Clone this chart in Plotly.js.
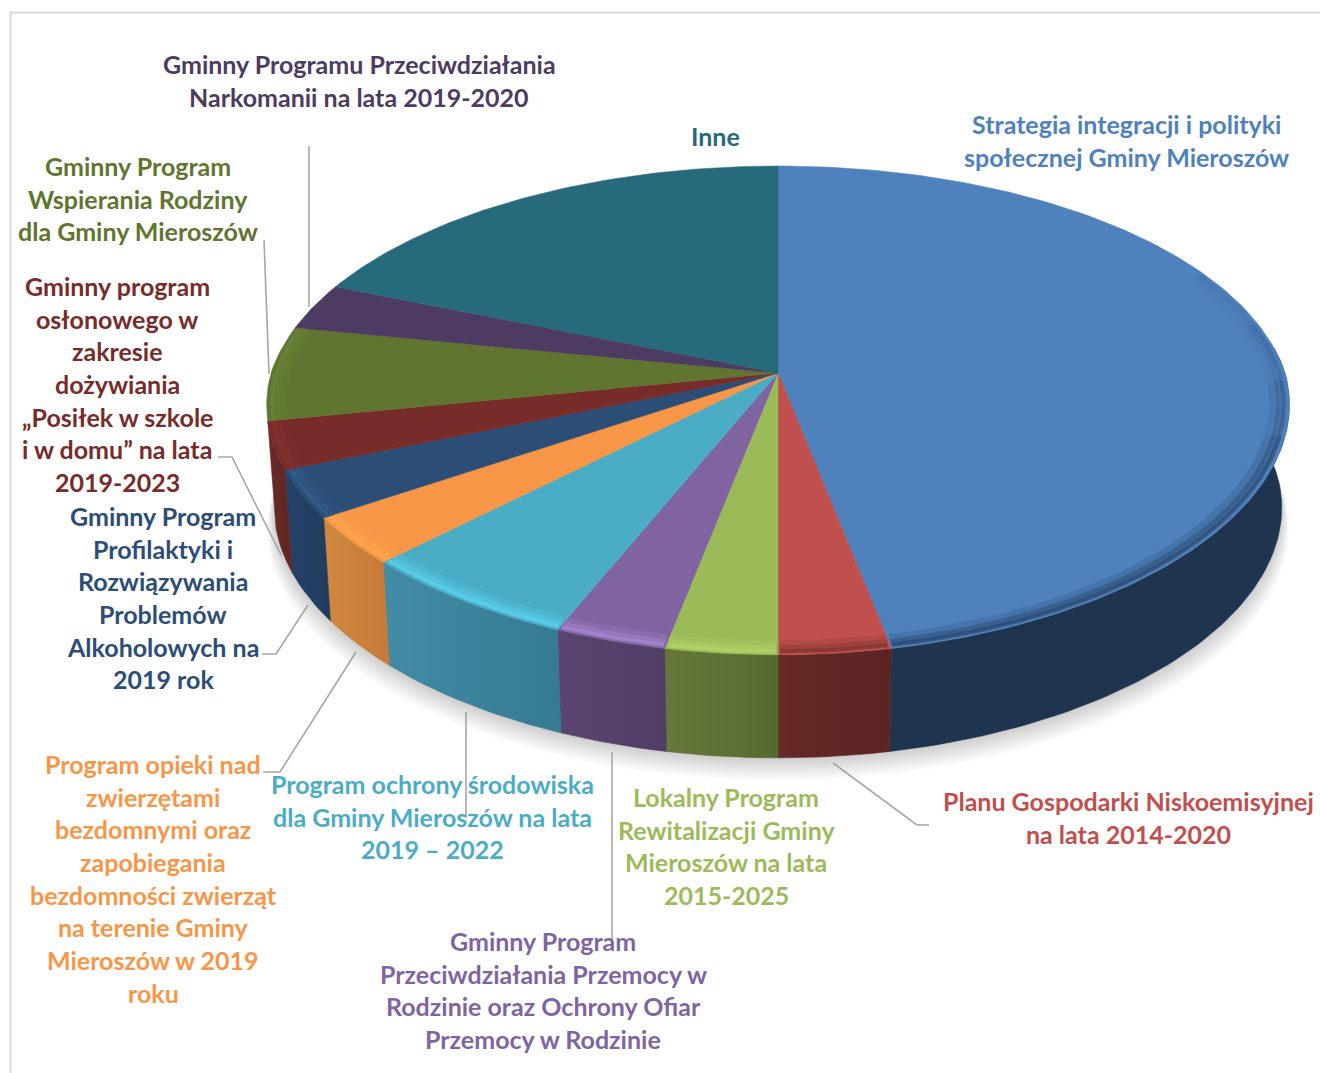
<!DOCTYPE html>
<html><head><meta charset="utf-8">
<script src="https://cdn.plot.ly/plotly-3.0.1.min.js"></script>
<style>html,body{margin:0;padding:0;background:#fff}#c{width:1320px;height:1073px}</style>
</head><body><div id="c"></div>
<script>
// DATA
const categories = [
 "Strategia integracji i polityki społecznej Gminy Mieroszów",
 "Planu Gospodarki Niskoemisyjnej na lata 2014-2020",
 "Lokalny Program Rewitalizacji Gminy Mieroszów na lata 2015-2025",
 "Gminny Program Przeciwdziałania Przemocy w Rodzinie oraz Ochrony Ofiar Przemocy w Rodzinie",
 "Program ochrony środowiska dla Gminy Mieroszów na lata 2019 – 2022",
 "Program opieki nad zwierzętami bezdomnymi oraz zapobiegania bezdomności zwierząt na terenie Gminy Mieroszów w 2019 roku",
 "Gminny Program Profilaktyki i Rozwiązywania Problemów Alkoholowych na 2019 rok",
 "Gminny program osłonowego w zakresie dożywiania „Posiłek w szkole i w domu” na lata 2019-2023",
 "Gminny Program Wspierania Rodziny dla Gminy Mieroszów",
 "Gminny Programu Przeciwdziałania Narkomanii na lata 2019-2020",
 "Inne"];
const values = [15,1,1,1,2,1,1,1,2,1,6];
const topColors  = ["#4F81BD","#C0504D","#9BBB59","#8064A2","#4BACC6","#F79646","#2C4D75","#772C2A","#5F7530","#4D3B62","#276A7C"];
const wallLeft   = ["#1F344F","#662A28","#66793A","#5A4570","#428CA5","#D0883F","#24426A","#6A2A28","#5F7530","#4D3B62","#276A7C"];
const wallRight  = ["#1F344F","#5A2422","#566A30","#503D64","#347A92","#C67A38","#213C5C","#5F2725","#5F7530","#4D3B62","#276A7C"];
const rimColors  = ["#1F344F","#6E2C2A","#B6D96A","#AB8CD9","#5CD4F2","#FFAA4F","#356595","#87332F","#6F8A38",null,null];
const rimGains   = [1,1,1.2,1.25,1.35,1.25,1,1,1,1,1];
const labelLines = [
 ["Strategia integracji i polityki","społecznej Gminy Mieroszów"],
 ["Planu Gospodarki Niskoemisyjnej","na lata 2014-2020"],
 ["Lokalny Program","Rewitalizacji Gminy","Mieroszów na lata","2015-2025"],
 ["Gminny Program","Przeciwdziałania Przemocy w","Rodzinie oraz Ochrony Ofiar","Przemocy w Rodzinie"],
 ["Program ochrony środowiska","dla Gminy Mieroszów na lata","2019 – 2022"],
 ["Program opieki nad","zwierzętami","bezdomnymi oraz","zapobiegania","bezdomności zwierząt","na terenie Gminy","Mieroszów w 2019","roku"],
 ["Gminny Program","Profilaktyki i","Rozwiązywania","Problemów","Alkoholowych na","2019 rok"],
 ["Gminny program","osłonowego w","zakresie","dożywiania","„Posiłek w szkole","i w domu” na lata","2019-2023"],
 ["Gminny Program","Wspierania Rodziny","dla Gminy Mieroszów"],
 ["Gminny Programu Przeciwdziałania","Narkomanii na lata 2019-2020"],
 ["Inne"]];
const labelCentreX = [1126,1128,726,543,432,153,163,117,138,359,715];
const labelFirstY  = [124,801,797,941,784,764,516,286,166,64,136];

// Projection of the tilted disc
const cx=778, cy=373, A=507, B=238.7, k=0.153, kFront=0.13, depth=103, shrink=0.985;
function P(deg,r,bottom){
  const t=deg*Math.PI/180, u=r*Math.sin(t), v=r*Math.cos(t);
  let x=cx+A*u/(1+(v<0?kFront:k)*v), y=cy-B*v/(1+k*v);
  if(bottom){x=cx+shrink*(x-cx); y+=depth;}
  return [x,y];
}
function arc(a1,a2,r,bottom){
  const n=Math.max(2,Math.ceil(Math.abs(a2-a1))), pts=[];
  for(let i=0;i<=n;i++) pts.push(P(a1+(a2-a1)*i/n,r,bottom));
  return pts;
}
const xs=p=>p.map(q=>q[0]), ys=p=>p.map(q=>q[1]);
const traces=[];
const base={type:'scatter',mode:'lines',hoverinfo:'skip',showlegend:false};

// soft shadow under the disc
for(let i=12;i>=1;i--){
  const ring=arc(0,360,1,true).map(q=>[cx+(q[0]-cx)*(1+i*0.0012),q[1]+i*1.9]);
  traces.push({...base,x:xs(ring),y:ys(ring),fill:'toself',fillcolor:'rgba(0,0,0,0.014)',line:{width:0}});
}
const total=values.reduce((a,b)=>a+b,0);
const spans=[]; let acc=0;
values.forEach(v=>{spans.push([acc/total*360,(acc+v)/total*360]);acc+=v;});

// side walls (the left silhouette ends at the maroon slice)
const wallEnd=spans[7][1];
spans.forEach((s,i)=>{
  const a1=Math.max(s[0],84), a2=Math.min(s[1],wallEnd);
  if(a2<=a1) return;
  const up=arc(a1,a2,1,false), low=arc(a2,a1,1,true), poly=up.concat(low);
  poly.push(up[0]);
  traces.push({...base,name:categories[i],x:xs(poly),y:ys(poly),fill:'toself',
    fillcolor:wallLeft[i],
    fillgradient:{type:'horizontal',colorscale:[[0,wallLeft[i]],[1,wallRight[i]]]},
    line:{width:0.6,color:wallRight[i]}});
});
// top surface
spans.forEach((s,i)=>{
  const a=arc(s[0],s[1],1,false), poly=[[cx,cy]].concat(a,[[cx,cy]]);
  traces.push({...base,name:categories[i],x:xs(poly),y:ys(poly),fill:'toself',fillcolor:topColors[i],
    line:{width:0.5,color:topColors[i]}});
});
// bevel glow along the rim
function glow(a1,a2,colour,gain){
  const far=arc(a1,a2,0.972,false), mid=arc(a1,a2,0.982,false), near=arc(a1,a2,0.99,false);
  traces.push({...base,x:xs(far),y:ys(far),line:{width:10,color:colour},opacity:Math.min(1,0.16*gain)});
  traces.push({...base,x:xs(mid),y:ys(mid),line:{width:7,color:colour},opacity:Math.min(1,0.3*gain)});
  traces.push({...base,x:xs(near),y:ys(near),line:{width:4,color:colour},opacity:Math.min(1,0.5*gain)});
}
spans.forEach((s,i)=>{
  if(!rimColors[i]) return;
  if(i===0){
    // the dark edge of the large slice fades out towards the back
    [[64,0.12],[78,0.2],[92,0.3],[105,0.45]].forEach(p=>glow(p[0],s[1]-0.2,rimColors[0],p[1]));
  } else {
    glow(s[0]+0.2,s[1]-0.2,rimColors[i],rimGains[i]);
  }
});

// leader lines
const leaders=[
 [[309,146],[309,307]],
 [[264,240],[269,374]],
 [[218,457],[232,457],[281,555]],
 [[308,605],[276,654],[262,654]],
 [[356,652],[280,772],[263,772]],
 [[466,712],[466,818]],
 [[612,752],[612,940]],
 [[833,763],[917,825],[929,825]]];
leaders.forEach(l=>traces.push({...base,x:xs(l),y:ys(l),line:{width:1.6,color:'#A6A6A6'}}));

// labels, one annotation per printed line
const annotations=[], lineStep=32.65;
labelLines.forEach((lines,i)=>lines.forEach((t,j)=>{
  annotations.push({xref:'x',yref:'y',x:labelCentreX[i],y:labelFirstY[i]+j*lineStep,text:t,showarrow:false,
    xanchor:'center',yanchor:'middle',font:{family:'Lato, sans-serif',size:25,color:topColors[i],weight:700}});
}));

const hidden={visible:false,fixedrange:true,autorange:false};
Plotly.newPlot('c',traces,{
  width:1320,height:1073,margin:{l:0,r:0,t:0,b:0},
  paper_bgcolor:'#fff',plot_bgcolor:'#fff',showlegend:false,
  xaxis:{...hidden,range:[0,1320]},
  yaxis:{...hidden,range:[1073,0]},
  annotations,
  shapes:[{type:'path',xref:'x',yref:'y',path:'M 10.5 1073 L 10.5 12.5 L 1320 12.5',line:{color:'#D9D9D9',width:2}}]
},{displayModeBar:false,staticPlot:true});
</script></body></html>
